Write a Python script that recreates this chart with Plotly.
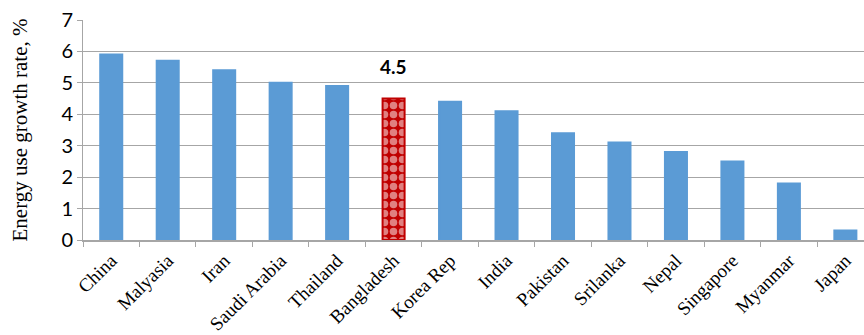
import plotly.graph_objects as go

countries = ["China", "Malyasia", "Iran", "Saudi Arabia", "Thailand", "Bangladesh",
             "Korea Rep", "India", "Pakistan", "Srilanka", "Nepal", "Singapore",
             "Myanmar", "Japan"]
growth = [5.9, 5.7, 5.4, 5.0, 4.9, 4.5, 4.4, 4.1, 3.4, 3.1, 2.8, 2.5, 1.8, 0.3]
highlight = "Bangladesh"
y_ticks = [0, 1, 2, 3, 4, 5, 6, 7]

blue = "#5b9bd5"
red = "#c00000"

colors = [red if c == highlight else blue for c in countries]
shapes = ["." if c == highlight else "" for c in countries]
lines = [red if c == highlight else blue for c in countries]

fig = go.Figure()
fig.add_trace(go.Bar(
    x=countries, y=growth, width=0.39,
    marker=dict(color=colors, line=dict(color=lines, width=2),
                pattern=dict(shape=shapes, fgcolor="white", bgcolor=red,
                             size=9, solidity=0.55, fillmode="overlay")),
    showlegend=False,
))

hv = growth[countries.index(highlight)]
fig.add_annotation(x=highlight, y=hv, text="<b>%.1f</b>" % hv, showarrow=False,
                   yshift=32, font=dict(family="Lato, Open Sans, sans-serif", size=19, color="black"))

fig.update_layout(
    width=864, height=335,
    margin=dict(l=83, r=0, t=20, b=95),
    plot_bgcolor="white", paper_bgcolor="white",
)
fig.update_xaxes(
    type="category", range=[-0.5, 13.33],
    tickangle=-45, tickson="boundaries", ticks="outside", ticklen=5, tickcolor="#a6a6a6",
    showline=True, linecolor="#a6a6a6", linewidth=2,
    tickfont=dict(family="Liberation Serif, Times New Roman, serif", size=19, color="black"),
    showgrid=False,
)
fig.update_yaxes(
    range=[0, 7], tickvals=y_ticks, ticks="outside", ticklen=5, tickcolor="#a6a6a6",
    showline=True, linecolor="#a6a6a6", linewidth=1,
    gridcolor="#a6a6a6", gridwidth=1, zeroline=False,
    tickfont=dict(family="Lato, Open Sans, sans-serif", size=20, color="black"),
    title=dict(text="Energy use growth rate, %", standoff=28,
               font=dict(family="Liberation Serif, Times New Roman, serif", size=21, color="black")),
)

fig.write_html("out.html")
